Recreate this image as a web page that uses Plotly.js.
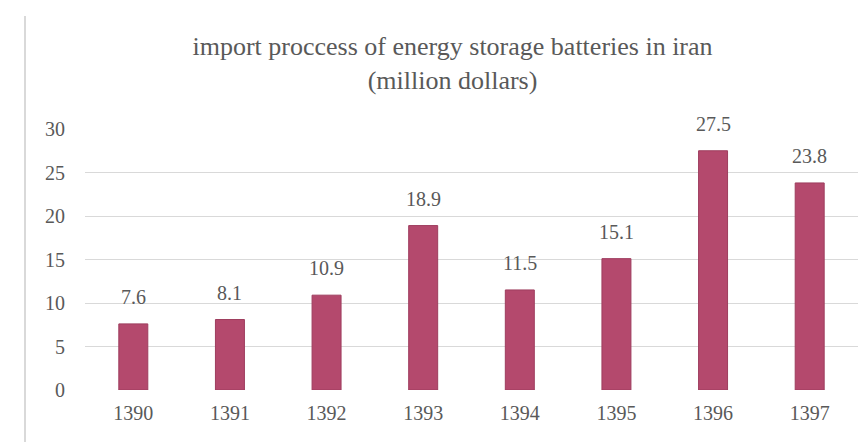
<!DOCTYPE html>
<html>
<head>
<meta charset="utf-8">
<script src="https://cdn.plot.ly/plotly-3.0.1.min.js"></script>
<style>html,body{margin:0;padding:0;background:#fff;} #chart{width:862px;height:442px;}</style>
</head>
<body>
<div id="chart"></div>
<script>
var years = ["1390","1391","1392","1393","1394","1395","1396","1397"];
var values = [7.6, 8.1, 10.9, 18.9, 11.5, 15.1, 27.5, 23.8];
var labels = ["7.6","8.1","10.9","18.9","11.5","15.1","27.5","23.8"];
var yTicks = [0,5,10,15,20,25,30];

var fontFam = '"Liberation Serif", "Times New Roman", serif';
var textColor = '#595959';

var trace = {
  type: 'bar',
  x: years,
  y: values,
  width: 0.3,
  marker: {color: '#B4496D', line: {color: '#9E3D5E', width: 1}},
  hoverinfo: 'none'
};

var annotations = years.map(function(yr, i){
  return {x: i, y: values[i], xref: 'x', yref: 'y', text: labels[i],
    showarrow: false, yanchor: 'bottom', yshift: 14,
    font: {family: fontFam, size: 20, color: textColor}};
});

var layout = {
  width: 862, height: 442,
  margin: {l: 85, r: 4, t: 129, b: 52},
  paper_bgcolor: '#fff', plot_bgcolor: '#fff',
  title: {text: 'import proccess of energy storage batteries in iran<br>(million dollars)',
    x: 0.525, xanchor: 'center', y: 0.875, yanchor: 'top',
    font: {family: fontFam, size: 26, color: textColor}},
  xaxis: {type: 'category', range: [-0.5, 7.5], autorange: false,
    showgrid: false, zeroline: false, showline: false, ticklabelstandoff: 9,
    ticks: '', tickfont: {family: fontFam, size: 20, color: textColor}},
  yaxis: {range: [0, 30], autorange: false, tickvals: yTicks, ticktext: yTicks.map(String),
    showgrid: true, gridcolor: '#D9D9D9', gridwidth: 1, zeroline: false,
    showline: false, ticks: '', ticklabelstandoff: 19,
    tickfont: {family: fontFam, size: 20, color: textColor}},
  annotations: annotations,
  showlegend: false
};
Plotly.newPlot('chart', [trace], layout, {displayModeBar: false, staticPlot: true}).then(function(){
  var svg = document.querySelector('#chart .main-svg');
  var ln = document.createElementNS('http://www.w3.org/2000/svg','line');
  ln.setAttribute('x1', 25); ln.setAttribute('x2', 25);
  ln.setAttribute('y1', 16); ln.setAttribute('y2', 442);
  ln.setAttribute('stroke', '#D9D9D9'); ln.setAttribute('stroke-width', 2);
  svg.appendChild(ln);
});
</script>
</body>
</html>
